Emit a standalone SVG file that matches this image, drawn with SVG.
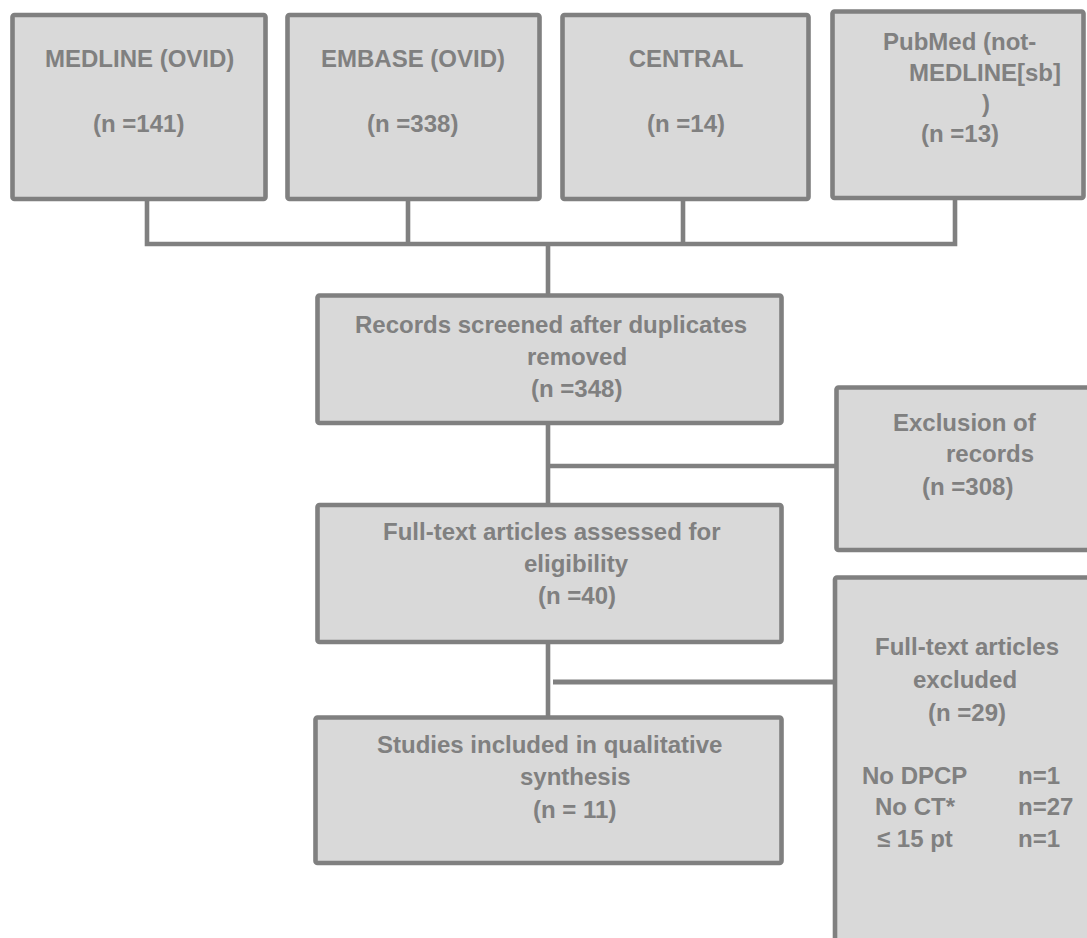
<svg xmlns="http://www.w3.org/2000/svg" width="1087" height="938" viewBox="0 0 1087 938">
<style>
.box{fill:#d9d9d9;stroke:#808080;stroke-width:4.6}
.t{font-family:"Liberation Sans",Arial,sans-serif;font-weight:bold;font-size:24px;fill:#808080}
.c{fill:none;stroke:#808080;stroke-width:4.6}
</style>
<rect width="1087" height="938" fill="#ffffff"/>
<g id="connectors">
<path class="c" d="M147 199V244M408 199V244M683 199V244M955 198V244M144.7 244H957.3M548 244V295"/>
<path class="c" d="M548 423V505M548 466H836"/>
<path class="c" d="M548 642V717"/>
<path class="c" d="M553 682H833" style="stroke-width:5.2"/>
</g>
<g id="medline">
<rect class="box" x="12.5" y="15" width="253" height="184" rx="2"/>
<text class="t" x="45" y="67">MEDLINE (OVID)</text>
<text class="t" x="93" y="132">(n =141)</text>
</g>
<g id="embase">
<rect class="box" x="287.5" y="15" width="252" height="184" rx="2"/>
<text class="t" x="321" y="67">EMBASE (OVID)</text>
<text class="t" x="367" y="132">(n =338)</text>
</g>
<g id="central">
<rect class="box" x="562.5" y="15" width="246" height="184" rx="2"/>
<text class="t" x="686" y="67" text-anchor="middle">CENTRAL</text>
<text class="t" x="686" y="132" text-anchor="middle">(n =14)</text>
</g>
<g id="pubmed">
<rect class="box" x="832.5" y="11.5" width="251" height="186.5" rx="2"/>
<text class="t" x="883" y="50">PubMed (not-</text>
<text class="t" x="909" y="81">MEDLINE[sb]</text>
<text class="t" x="982" y="112">)</text>
<text class="t" x="921" y="142">(n =13)</text>
</g>
<g id="records">
<rect class="box" x="317.5" y="295.5" width="464" height="127.5" rx="2"/>
<text class="t" x="355" y="333">Records screened after duplicates</text>
<text class="t" x="527" y="365">removed</text>
<text class="t" x="531" y="397">(n =348)</text>
</g>
<g id="exclusion">
<rect class="box" x="836.5" y="387.5" width="300" height="162.5" rx="2"/>
<text class="t" x="893" y="431">Exclusion of</text>
<text class="t" x="946" y="462">records</text>
<text class="t" x="922" y="495">(n =308)</text>
</g>
<g id="fulltext">
<rect class="box" x="317.5" y="505" width="464" height="137" rx="2"/>
<text class="t" x="383" y="540">Full-text articles assessed for</text>
<text class="t" x="524" y="572">eligibility</text>
<text class="t" x="538" y="604">(n =40)</text>
</g>
<g id="excluded">
<rect class="box" x="835" y="577.5" width="300" height="400" rx="2"/>
<text class="t" x="875" y="655">Full-text articles</text>
<text class="t" x="913" y="688">excluded</text>
<text class="t" x="928" y="721">(n =29)</text>
<text class="t" x="862" y="784">No DPCP</text>
<text class="t" x="1018" y="784">n=1</text>
<text class="t" x="875" y="815">No CT*</text>
<text class="t" x="1018" y="815">n=27</text>
<text class="t" x="877" y="847">≤ 15 pt</text>
<text class="t" x="1018" y="847">n=1</text>
</g>
<g id="studies">
<rect class="box" x="315.5" y="717.5" width="466" height="145.5" rx="2"/>
<text class="t" x="377" y="753">Studies included in qualitative</text>
<text class="t" x="520" y="785">synthesis</text>
<text class="t" x="533" y="818">(n = 11)</text>
</g>
</svg>
